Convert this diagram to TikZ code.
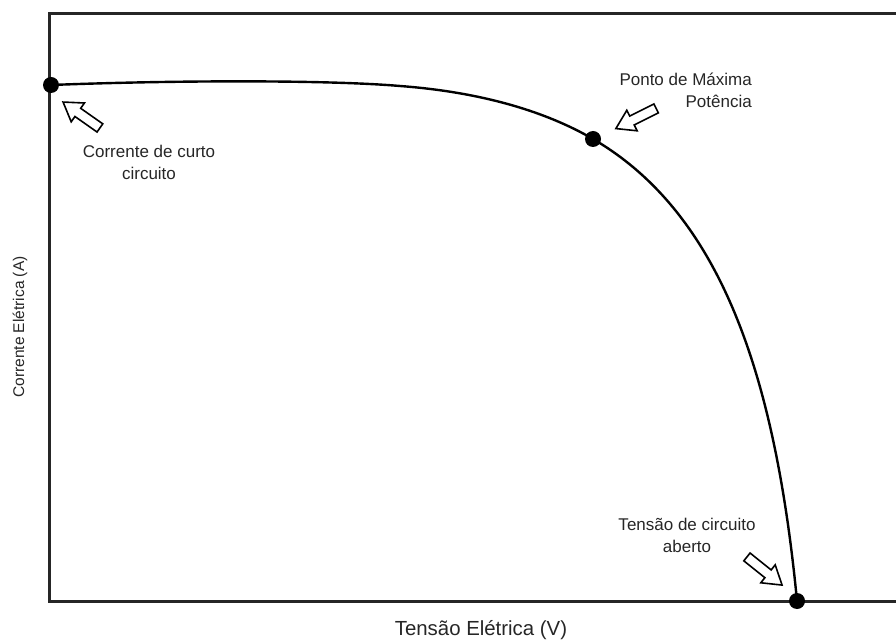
\documentclass[tikz,border=0pt]{standalone}
\usepackage{fontspec}
\setmainfont{Liberation Sans}
\begin{document}
\begin{tikzpicture}[x=1pt,y=1pt,
  frame/.style={line width=3pt,draw=black!85},
  curve/.style={line width=2.4pt,black},
  pt/.style={circle,fill=black,inner sep=0pt,minimum size=16pt},
  lbl/.style={font=\fontsize{17}{22}\selectfont,text=black!85,align=center,inner sep=0pt},
  hollow/.pic={\draw[line width=1.6pt,black,fill=white,line join=miter]
     (-22.5,-5)--(4.5,-5)--(4.5,-11.5)--(22.5,0)--(4.5,11.5)--(4.5,5)--(-22.5,5)--cycle;}
]
\useasboundingbox (0,0) rectangle (896,643);
% frame
\coordinate (tr) at (896,629);
\coordinate (tl) at (49,629);
\coordinate (bl) at (49,42);
\coordinate (br) at (896,42);
\draw[frame] (tr) -- (tl) -- (bl) -- (br);
% curve
\coordinate (isc) at (51,558);
\coordinate (knee) at (400,557);
\coordinate (mp) at (593,504);
\coordinate (oc) at (797,42);
\draw[curve] (isc) .. controls (180,563) and (330,563) .. (knee)
  .. controls (480,551) and (545,532) .. (mp)
  .. controls (720,430) and (775,270) .. (oc);
\node[pt] (iscdot) at (isc) {};
\node[pt] (mpp) at (mp) {};
\node[pt] (voc) at (oc) {};
% arrows
\pic[rotate=144.9] at (81.5,528) {hollow};
\pic[rotate=206.6] at (636,524.5) {hollow};
\pic[rotate=-38.7] at (764.5,72) {hollow};
% labels
\node[lbl] (liscl) at (149,481) {Corrente de curto\\circuito};
\node[lbl,align=right,anchor=east] (lmpp) at (752,553) {Ponto de Máxima\\Potência};
\node[lbl] (lvoc) at (687,108) {Tensão de circuito\\aberto};
\node[lbl,font=\fontsize{20.4}{22}\selectfont] (xl) at (481,13) {Tensão Elétrica (V)};
\node[lbl,font=\fontsize{15.5}{20}\selectfont,rotate=90] (yl) at (20,316) {Corrente Elétrica (A)};
\end{tikzpicture}
\end{document}
